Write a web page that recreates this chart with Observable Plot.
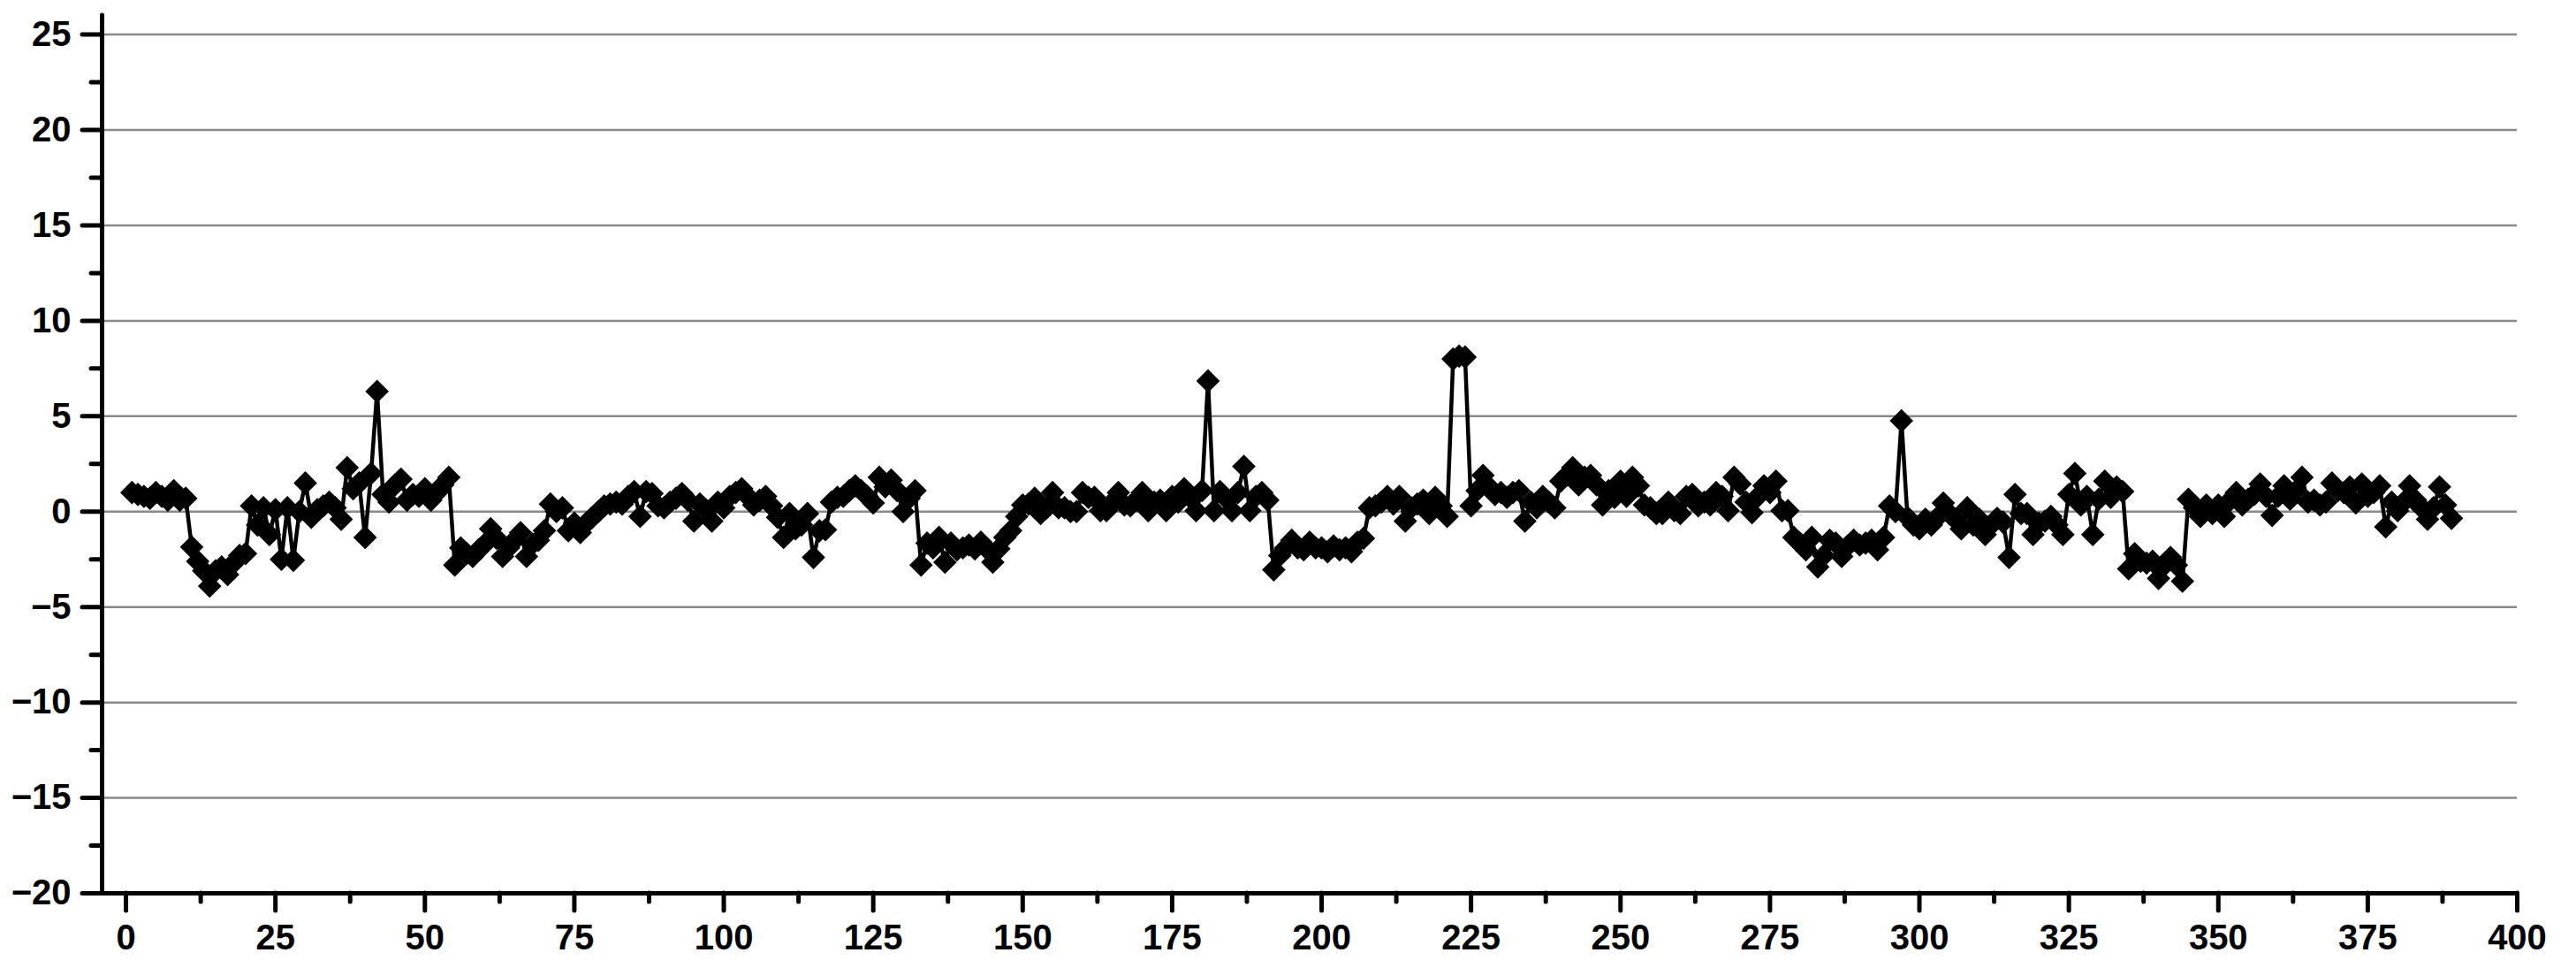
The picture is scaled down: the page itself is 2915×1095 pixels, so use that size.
<!DOCTYPE html>
<html>
<head>
<meta charset="utf-8">
<script src="https://cdn.jsdelivr.net/npm/d3@7"></script>
<script src="https://cdn.jsdelivr.net/npm/@observablehq/plot@0.6"></script>
<style>
  html, body { margin: 0; padding: 0; background: #fff; }
  #chart svg { display: block; }
</style>
</head>
<body>
<div id="chart"></div>
<script>
// Series values, point 1..100
const valuesA = [
  1.0, 0.9, 0.8, 0.7, 1.0, 0.8, 0.6, 1.1, 0.6, 0.7,
  -1.85, -2.6, -3.1, -3.9, -3.1, -2.9, -3.3, -2.7, -2.3, -2.2,
  0.3, -0.7, 0.2, -1.2, 0.1, -2.5, 0.2, -2.55, 0.0, 1.5,
  -0.3, 0.1, 0.3, 0.5, 0.2, -0.4, 2.3, 1.2, 1.5, -1.35,
  2.0, 6.3, 0.9, 0.5, 1.4, 1.7, 0.6, 0.9, 0.8, 1.2,
  0.6, 1.0, 1.4, 1.8, -2.8, -1.9, -2.2, -2.35, -2.0, -1.7,
  -0.9, -1.4, -2.35, -1.9, -1.5, -1.1, -2.35, -1.7, -1.5, -1.0,
  0.4, 0.0, 0.2, -1.0, -0.6, -1.1, -0.6, -0.3, 0.0, 0.3,
  0.4, 0.5, 0.4, 0.8, 1.05, -0.25, 1.05, 0.95, 0.3, 0.2,
  0.5, 0.7, 0.95, 0.6, -0.5, 0.4, 0.1, -0.5, 0.5, 0.2
];
// point 101..200
const valuesB = [
  0.8, 1.0, 1.2, 0.8, 0.35, 0.6, 0.8, 0.3, -0.3, -1.35,
  -0.1, -0.9, -0.7, -0.1, -2.4, -1.0, -0.95, 0.5, 0.75, 0.8,
  1.1, 1.35, 1.1, 0.8, 0.45, 1.8, 1.3, 1.65, 1.1, 0.0,
  0.7, 1.1, -2.8, -1.65, -1.9, -1.35, -2.65, -1.65, -2.0, -1.9,
  -1.75, -1.95, -1.6, -1.95, -2.65, -1.95, -1.35, -1.0, -0.25, 0.35,
  0.4, 0.7, -0.1, 0.2, 1.0, 0.2, 0.2, 0.0, 0.0, 1.0,
  0.75, 0.75, 0.05, 0.05, 0.5, 1.0, 0.35, 0.3, 0.6, 1.0,
  0.05, 0.5, 0.6, 0.05, 0.8, 0.5, 1.2, 0.75, 0.05, 1.1,
  6.85, 0.05, 1.05, 0.7, 0.05, 1.0, 2.37, 0.05, 0.8, 1.0,
  0.6, -3.05, -2.3, -1.9, -1.5, -1.9, -2.0, -1.6, -1.9, -1.9
];
// point 201..300
const valuesC = [
  -2.1, -1.8, -2.0, -1.9, -2.1, -1.6, -1.4, 0.2, 0.3, 0.5,
  0.8, 0.4, 0.8, -0.5, 0.2, 0.4, 0.6, -0.1, 0.75, 0.3,
  -0.25, 8.0, 8.15, 8.1, 0.3, 1.1, 1.9, 1.3, 0.9, 1.0,
  0.75, 1.0, 1.1, -0.5, 0.5, 0.2, 0.8, 0.5, 0.2, 1.6,
  1.9, 2.3, 1.4, 1.8, 1.9, 1.4, 0.35, 1.1, 0.75, 1.6,
  0.8, 1.8, 1.35, 0.35, 0.2, -0.1, -0.1, 0.5, 0.05, -0.1,
  0.8, 0.9, 0.3, 0.5, 0.35, 1.0, 0.8, 0.05, 1.8, 1.45,
  0.5, -0.05, 0.8, 1.35, 1.0, 1.6, 0.05, 0.05, -1.35, -1.65,
  -2.0, -1.35, -2.9, -2.3, -1.5, -1.65, -2.35, -1.8, -1.5, -1.75,
  -1.65, -1.5, -2.0, -1.35, 0.3, 0.0, 4.76, -0.3, -0.7, -0.9
];
// point 301..389
const valuesD = [
  -0.4, -0.7, -0.3, 0.45, -0.1, -0.4, -0.9, 0.2, -0.7, -0.4,
  -1.2, -0.7, -0.35, -0.55, -2.4, 0.9, -0.1, -0.1, -1.2, -0.6,
  -0.5, -0.25, -0.7, -1.2, 0.9, 2.0, 0.35, 0.8, -1.2, 0.65,
  1.6, 0.75, 1.3, 1.05, -3.0, -2.2, -2.6, -2.7, -2.6, -3.5,
  -2.8, -2.4, -2.8, -3.65, 0.65, 0.2, -0.25, 0.35, -0.1, 0.35,
  -0.25, 0.6, 1.0, 0.35, 0.65, 0.9, 1.45, 0.8, -0.2, 0.8,
  1.35, 0.65, 1.1, 1.8, 0.5, 0.6, 0.35, 0.5, 1.5, 1.1,
  1.0, 1.3, 0.45, 1.45, 0.8, 1.0, 1.35, -0.8, 0.5, 0.05,
  0.5, 1.35, 0.6, 0.2, -0.4, 0.2, 1.3, 0.35, -0.35
];

// Tick labels
const xMajorTicks = [0, 25, 50, 75, 100, 125, 150, 175, 200, 225, 250, 275, 300, 325, 350, 375, 400];
const xMinorTicks = [12.5, 37.5, 62.5, 87.5, 112.5, 137.5, 162.5, 187.5, 212.5, 237.5, 262.5, 287.5, 312.5, 337.5, 362.5, 387.5];
const yMajorTicks = [-20, -15, -10, -5, 0, 5, 10, 15, 20, 25];
const yMinorTicks = [-17.5, -12.5, -7.5, -2.5, 2.5, 7.5, 12.5, 17.5, 22.5];
const yGridLines = [-15, -10, -5, 0, 5, 10, 15, 20, 25];

const values = [...valuesA, ...valuesB, ...valuesC, ...valuesD];
const data = values.map((v, i) => ({x: i + 1, y: v}));

const font = "'Liberation Sans', Arial, sans-serif";
const axisText = {fontSize: 40, fontWeight: "bold", fontFamily: font, fill: "black", label: null};

const chart = Plot.plot({
  width: 2915,
  height: 1095,
  marginLeft: 115,
  marginRight: 67,
  marginTop: 17,
  marginBottom: 85,
  style: {fontFamily: font, background: "white", color: "black", overflow: "visible"},
  x: {domain: [-4, 400], axis: null, label: null},
  y: {domain: [-20, 26], axis: null, label: null},
  marks: [
    Plot.ruleY(yGridLines, {x1: -4, x2: 400, stroke: "#8a8a8a", strokeWidth: 2.5}),
    Plot.line(data, {x: "x", y: "y", stroke: "black", strokeWidth: 4.5, strokeLinejoin: "round"}),
    Plot.dot(data, {x: "x", y: "y", symbol: "diamond2", r: 12, fill: "black", stroke: "none"}),
    Plot.ruleX([-4], {y1: -20, y2: 26, stroke: "black", strokeWidth: 5, strokeLinecap: "round"}),
    Plot.ruleY([-20], {x1: -4, x2: 400, stroke: "black", strokeWidth: 5, strokeLinecap: "round"}),
    Plot.axisY({ticks: yMajorTicks, anchor: "left", tickSize: 22, tickPadding: 13, strokeWidth: 5, strokeLinecap: "round", ...axisText}),
    Plot.axisY({ticks: yMinorTicks, anchor: "left", tickSize: 12, tickFormat: () => "", strokeWidth: 5, strokeLinecap: "round", ...axisText}),
    Plot.axisX({ticks: xMajorTicks, anchor: "bottom", tickSize: 20, tickPadding: 15, strokeWidth: 5, strokeLinecap: "round", ...axisText}),
    Plot.axisX({ticks: xMinorTicks, anchor: "bottom", tickSize: 10, tickFormat: () => "", strokeWidth: 5, strokeLinecap: "round", ...axisText})
  ]
});
document.getElementById("chart").appendChild(chart);
</script>
</body>
</html>
